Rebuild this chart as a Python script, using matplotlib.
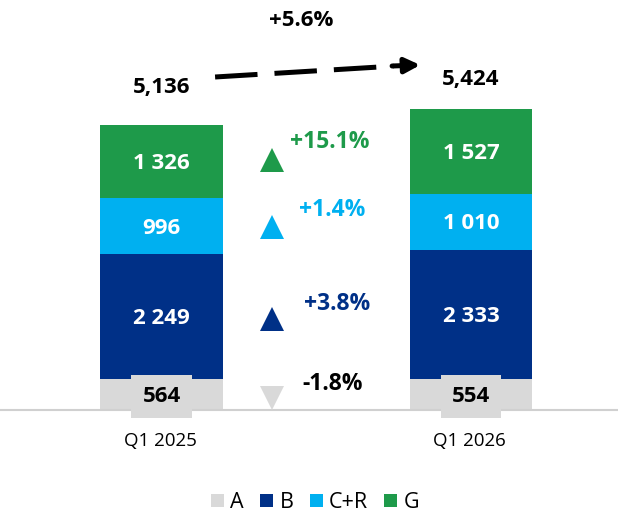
import matplotlib
matplotlib.use("Agg")
import matplotlib.pyplot as plt
from matplotlib.patches import Patch

# data
periods = ["Q1 2025", "Q1 2026"]
segments = ["A", "B", "C+R", "G"]
seg_a = [564, 554]
seg_b = [2249, 2333]
seg_cr = [996, 1010]
seg_g = [1326, 1527]
totals = [5136, 5424]
total_labels = ["5,136", "5,424"]
total_change = "+5.6%"
seg_changes = ["-1.8%", "+3.8%", "+1.4%", "+15.1%"]
seg_up = [False, True, True, True]

colors = ["#D9D9D9", "#003087", "#00B0F0", "#1E9A4A"]
change_colors = ["#000000", "#003087", "#00B0F0", "#1E9A4A"]
text_colors = ["#000000", "white", "white", "white"]

plt.rcParams['font.family'] = ['Open Sans', 'DejaVu Sans']

fig = plt.figure(figsize=(6.18, 5.13), dpi=100)
ax = fig.add_axes([0, 0, 1, 1])
ax.set_xlim(-0.522, 1.475)
ax.set_ylim(-1854, 7380)
ax.axis("off")

x = [0, 1]
width = 0.397
series = [seg_a, seg_b, seg_cr, seg_g]
bottoms = [0, 0]
mids = []
for vals, col, tcol in zip(series, colors, text_colors):
    ax.bar(x, vals, width, bottom=bottoms, color=col, edgecolor="none", zorder=2)
    m = []
    for i in range(2):
        yc = bottoms[i] + vals[i] / 2
        m.append(yc)
        label = f"{vals[i]:,}".replace(",", " ")
        kw = {}
        if tcol == "#000000":
            kw["bbox"] = dict(boxstyle="square,pad=0.5", fc=col, ec="none")
        ax.text(x[i], yc - 40, label, ha="center", va="center", color=tcol,
                fontsize=16, fontweight="bold", zorder=4, **kw)
    mids.append(m)
    bottoms = [b + v for b, v in zip(bottoms, vals)]

# baseline
ax.axhline(0, color="#D0D0D0", lw=1.5, zorder=3)

# category labels
for i in range(2):
    ax.text(x[i] - 0.005, -560, periods[i], ha="center", va="center",
            fontsize=13.5, color="black")

# totals
offsets = [37, 29]
for i in range(2):
    ax.annotate(total_labels[i], (x[i], totals[i]), xytext=(0, offsets[i] * 0.72),
                textcoords="offset points", ha="center", va="center",
                fontsize=16, fontweight="bold")

# dashed growth arrow
ax.plot([0.173, 0.75], [5994, 6190], color="black", lw=3.6,
        linestyle=(0, (8.5, 3.4)), solid_capstyle="butt", dash_capstyle="butt")
ax.annotate("", xy=(0.836, 6210), xytext=(0.745, 6192),
            arrowprops=dict(arrowstyle="-|>,head_length=0.9,head_width=0.45",
                            color="black", lw=3.6, shrinkA=0, shrinkB=0))
ax.text(0.45, (513 - 20 - 103) * 18, total_change, ha="center", va="center",
        fontsize=16, fontweight="bold")

# segment change markers
for k in range(4):
    ym = (mids[k][0] + mids[k][1]) / 2
    marker = "^" if seg_up[k] else "v"
    mcol = colors[k]
    ax.plot(0.357, ym - 60, marker=marker, markersize=17, color=mcol,
            markeredgewidth=0, zorder=3)
    tx = [0.455, 0.46, 0.445, 0.415][k]
    dy = [180, 200, 250, 250][k]
    ax.text(tx, ym + dy, seg_changes[k], ha="left", va="center",
            fontsize=16.5, fontweight="bold", color=change_colors[k])

# legend
handles = [Patch(facecolor=c, edgecolor="none") for c in colors]
fig.legend(handles, segments, loc="center", bbox_to_anchor=(0.51, 0.02),
           ncol=4, frameon=False, fontsize=15.5, handlelength=0.6,
           handleheight=0.6, handletextpad=0.3, columnspacing=0.75)

fig.savefig("out.png", dpi=100)
